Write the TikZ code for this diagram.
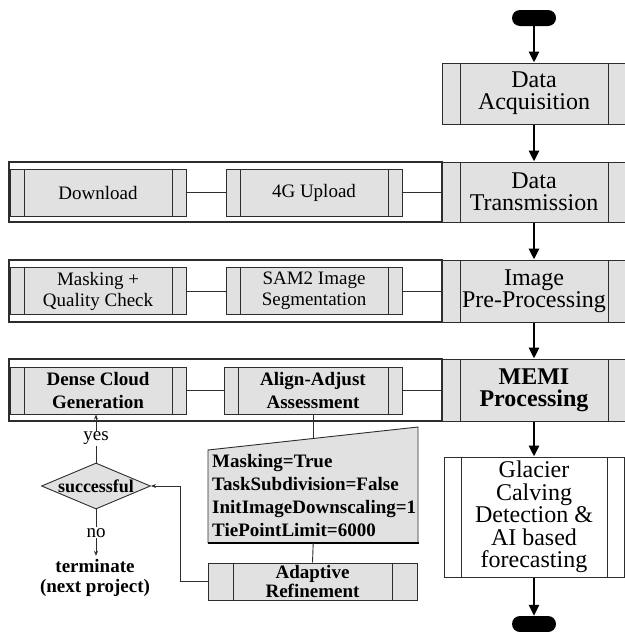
\documentclass[tikz,border=0pt]{standalone}
\usepackage{fontspec}
\setmainfont{Liberation Serif}
\usetikzlibrary{shapes.geometric,arrows.meta}
\definecolor{boxgray}{RGB}{225,225,225}
\definecolor{edgegray}{RGB}{45,45,45}

\begin{document}
\begin{tikzpicture}[x=1pt, y=-1pt,
		subproc/.style={rectangle, draw=edgegray, line width=1pt, fill=boxgray, inner sep=0pt, align=center,
			path picture={\draw[edgegray, line width=0.6pt]
				([xshift=#1]path picture bounding box.north west) -- ([xshift=#1]path picture bounding box.south west)
				([xshift=-#1]path picture bounding box.north east) -- ([xshift=-#1]path picture bounding box.south east);}},
		bigtext/.style={font=\fontsize{24}{22}\selectfont},
		bigbold/.style={font=\fontsize{24}{22}\selectfont\bfseries},
		smalltext/.style={font=\fontsize{19}{21}\selectfont},
		boldtext/.style={font=\fontsize{19}{23}\selectfont\bfseries},
		rowframe/.style={rectangle, draw=edgegray, line width=1.2pt, inner sep=0pt, minimum width=433pt},
		terminal/.style={rectangle, fill=black, rounded corners=8pt, minimum width=44pt, minimum height=16pt, inner sep=0pt},
		decision/.style={diamond, draw=edgegray, fill=boxgray, line width=0.9pt, inner sep=0pt,
			minimum width=109pt, minimum height=46pt, font=\fontsize{18}{20}\selectfont\bfseries},
		flow/.style={-{Triangle[length=11pt,width=10pt]}, line width=2.8pt},
		link/.style={draw=edgegray, line width=0.9pt},
		smallarrow/.style={-{Stealth[length=5pt,width=4pt]}, draw=edgegray, line width=0.9pt},
		tag/.style={fill=white, inner sep=1pt, font=\fontsize{19}{21}\selectfont}]

	\useasboundingbox (0,0) rectangle (624,632);

	% Frames of the side rows
	\node[rowframe, minimum height=60pt] (rowtrans) at (225.5,192) {};
	\node[rowframe, minimum height=62pt] (rowprep) at (225.5,291) {};
	\node[rowframe, minimum height=62pt] (rowmemi) at (225.5,390) {};

	% Main column
	\node[terminal] (start) at (534,18) {};
	\node[subproc=18pt, bigtext, minimum width=184pt, minimum height=61pt] (acq) at (534,93.5) {Data\\Acquisition};
	\node[subproc=18pt, bigtext, minimum width=184pt, minimum height=60pt] (trans) at (534,192) {Data\\Transmission};
	\node[subproc=18pt, bigtext, minimum width=184pt, minimum height=62pt] (prep) at (534,291) {Image\\Pre-Processing};
	\node[subproc=18pt, bigbold, minimum width=184pt, minimum height=62pt] (memi) at (534,390) {MEMI\\Processing};
	\node[subproc=17pt, fill=white, font=\fontsize{24}{22.5}\selectfont, minimum width=180pt, minimum height=120pt] (glacier) at (534,517) {Glacier\\Calving\\Detection \&\\AI based\\forecasting};
	\node[terminal] (stop) at (534,624) {};

	\draw[flow] (start) -- (acq);
	\draw[flow] (acq) -- (trans);
	\draw[flow] (trans) -- (prep);
	\draw[flow] (prep) -- (memi);
	\draw[flow] (memi) -- (glacier);
	\draw[flow] (glacier) -- (stop);

	% Transmission row
	\node[subproc=14pt, smalltext, minimum width=176pt, minimum height=47pt] (down) at (98,192.5) {Download};
	\node[subproc=14pt, smalltext, minimum width=176pt, minimum height=47pt] (upload) at (314,192.5) {4G Upload};
	\draw[link] (down) -- (upload);
	\draw[link] (upload.east) -- (upload.east -| trans.west);

	% Pre-processing row
	\node[subproc=14pt, smalltext, minimum width=176pt, minimum height=47pt] (mask) at (98,291) {Masking +\\Quality Check};
	\node[subproc=14pt, smalltext, minimum width=176pt, minimum height=47pt] (sam) at (314,291) {SAM2 Image\\Segmentation};
	\draw[link] (mask) -- (sam);
	\draw[link] (sam.east) -- (sam.east -| prep.west);

	% MEMI row
	\node[subproc=14pt, boldtext, minimum width=176pt, minimum height=47pt] (dense) at (98,390.5) {Dense Cloud\\Generation};
	\node[subproc=14pt, boldtext, minimum width=178pt, minimum height=47pt] (align) at (313,390.5) {Align-Adjust\\Assessment};
	\draw[link] (dense) -- (align);
	\draw[link] (align.east) -- (align.east -| memi.west);

	% Parameters (manual input)
	\filldraw[fill=boxgray, draw=edgegray, line width=0.9pt] (208,543) -- (208,450) -- (418,427) -- (418,543);
	\draw[line width=2pt] (207.5,543) -- (418.5,543);
	\node[boldtext, align=left, anchor=south west, inner xsep=4pt, inner ysep=6pt, text width=202pt] (params) at (208,543)
		{Masking=True\\TaskSubdivision=False\\InitImageDownscaling=1\\TiePointLimit=6000};
	\coordinate (ptop) at (313,438.5);
	\draw[link] (align.south) -- (ptop);

	\node[subproc=25pt, font=\fontsize{19}{19.5}\selectfont\bfseries, minimum width=209pt, minimum height=37pt] (adapt) at (312.5,581.5) {Adaptive\\Refinement};
	\draw[link] (params.south) -- (adapt.north);

	% Check and feedback
	\node[decision] (check) at (96,486) {\makebox[0pt]{successful}};
	\node[font=\fontsize{19}{20}\selectfont\bfseries, align=center] (term) at (95,578) {terminate\\(next project)};
	\draw[smallarrow] (adapt.west) -- ++(-27,0) |- (check.east);
	\draw[smallarrow] (check.north) -- node[tag] {yes} (check.north |- dense.south);
	\draw[smallarrow] (check.south) -- node[tag] {no} (check.south |- term.north);
\end{tikzpicture}
\end{document}
